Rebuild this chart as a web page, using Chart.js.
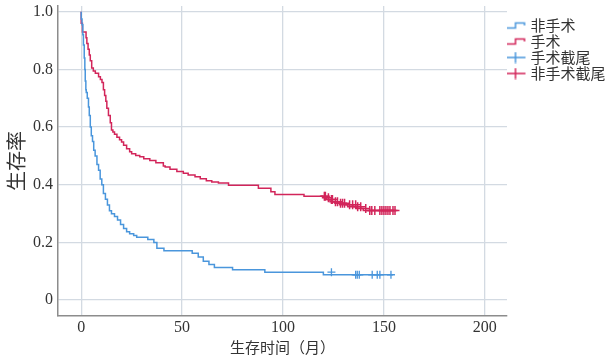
<!DOCTYPE html>
<html>
<head>
<meta charset="utf-8">
<script src="https://cdn.jsdelivr.net/npm/chart.js@4"></script>
<style>
  html, body { margin: 0; padding: 0; background: #fff; }
  #wrap { width: 610px; height: 360px; }
</style>
</head>
<body>
<div id="wrap"><canvas id="km"></canvas></div>
<script>
// legend labels, in the order of the picture
const seriesLabels = ["非手术", "手术", "手术截尾", "非手术截尾"];

// 非手术 (blue) step curve: event times (months) and survival after each event
const blueTimes = [0, 0.4, 0.8, 1.1, 1.5, 1.8, 2.0, 2.3, 2.5, 3.0, 3.6, 4.0, 4.5, 5.0, 5.6, 6.2, 6.9, 7.8, 8.6, 9.4,
  10.2, 11, 12, 13, 14, 15, 16.5, 18, 19.5, 21, 22.5, 24, 26, 27.5, 33, 36, 37.5, 41, 55, 58, 60.5, 63.3, 66, 75, 91, 120, 134.5, 154.5];
const blueSurv = [1.0, 0.975, 0.955, 0.92, 0.885, 0.84, 0.8, 0.76, 0.73, 0.72, 0.70, 0.67, 0.64, 0.60, 0.57, 0.55, 0.52, 0.50, 0.47, 0.45,
  0.42, 0.40, 0.37, 0.35, 0.33, 0.31, 0.30, 0.29, 0.278, 0.262, 0.248, 0.237, 0.23, 0.224, 0.218, 0.21, 0.2, 0.18, 0.171, 0.163, 0.15, 0.135, 0.124, 0.113, 0.105, 0.097, 0.088, 0.088];

// 手术 (red) step curve
const redTimes = [0, 0.6, 2.4, 2.8, 3.4, 4.0, 4.5, 5.2, 6.0, 7.0, 8.6, 9.5, 10.3, 11, 11.6, 12.2, 12.7, 13.5, 14.4, 15.0,
  15.7, 16.5, 17.7, 19, 20, 21, 22.5, 24, 25, 27, 29, 31, 34, 37, 40.7, 41.6, 44, 47.4, 50.6, 53, 56.4, 59, 62, 64.7, 68, 73,
  87.8, 94, 96, 110.4, 119.6, 121.6, 123.3, 125.7, 128, 132, 136.5, 139.8, 142.2, 156];
const redSurv = [1.0, 0.96, 0.93, 0.91, 0.89, 0.87, 0.85, 0.83, 0.805, 0.795, 0.787, 0.775, 0.765, 0.755, 0.73, 0.71, 0.69, 0.665, 0.64, 0.615,
  0.59, 0.583, 0.575, 0.565, 0.556, 0.548, 0.537, 0.525, 0.515, 0.508, 0.502, 0.497, 0.49, 0.484, 0.476, 0.465, 0.462, 0.454, 0.446, 0.44, 0.434, 0.428, 0.421, 0.414, 0.41, 0.406,
  0.398, 0.388, 0.376, 0.366, 0.36, 0.355, 0.349, 0.341, 0.336, 0.331, 0.324, 0.318, 0.311, 0.311];

// censored cases (plus marks)
const blueCensorTimes = [124, 136, 136.8, 137.8, 144.2, 146.7, 148, 153.5];
const blueCensorSurv = [0.097, 0.088, 0.088, 0.088, 0.088, 0.088, 0.088, 0.088];
const redCensorTimes = [120.5, 121, 122.5, 124, 124.5, 126, 127, 128.5, 129.5, 130.5, 133, 134.5, 136, 137, 138.5, 141,
  143, 144, 145.5, 148, 149, 150, 151, 152, 153, 154.5, 155.5];
const redCensorSurv = [0.36, 0.36, 0.355, 0.349, 0.349, 0.341, 0.341, 0.336, 0.336, 0.336, 0.331, 0.331, 0.331, 0.324, 0.324, 0.318,
  0.311, 0.311, 0.311, 0.311, 0.311, 0.311, 0.311, 0.311, 0.311, 0.311, 0.311];

const xTicks = [0, 50, 100, 150, 200];
const yTicks = [0, 0.2, 0.4, 0.6, 0.8, 1.0];

const blue = "#4a96dc";
const red = "#d2255a";
const serif = "'Liberation Serif', 'Times New Roman', serif";
const cjk = "'Noto Sans CJK SC', sans-serif";

const toPoints = (xs, ys) => xs.map((x, i) => ({ x: x, y: ys[i] }));

// small legend icons: step line and plus mark
function stepIcon(color) {
  const c = document.createElement("canvas");
  c.width = 22; c.height = 12;
  const g = c.getContext("2d");
  g.strokeStyle = color; g.lineWidth = 1.5;
  g.beginPath();
  g.moveTo(1, 8.5); g.lineTo(11, 8.5); g.lineTo(11, 3.5); g.lineTo(20, 3.5); g.lineTo(20, 6);
  g.stroke();
  return c;
}
function crossIcon(color) {
  const c = document.createElement("canvas");
  c.width = 22; c.height = 12;
  const g = c.getContext("2d");
  g.strokeStyle = color; g.lineWidth = 1.5;
  g.beginPath();
  g.moveTo(1, 6); g.lineTo(21, 6);
  g.moveTo(11, 0.5); g.lineTo(11, 11.5);
  g.stroke();
  return c;
}
const legendIcons = [stepIcon(blue), stepIcon(red), crossIcon(blue), crossIcon(red)];

function draw() {
  new Chart(document.getElementById("km"), {
    type: "line",
    data: {
      datasets: [
        {
          label: seriesLabels[0],
          data: toPoints(blueTimes, blueSurv),
          borderColor: blue,
          borderWidth: 1.5,
          stepped: "after",
          pointRadius: 0,
          fill: false,
        },
        {
          label: seriesLabels[1],
          data: toPoints(redTimes, redSurv),
          borderColor: red,
          borderWidth: 1.5,
          stepped: "after",
          pointRadius: 0,
          fill: false,
        },
        {
          label: seriesLabels[2],
          data: toPoints(blueCensorTimes, blueCensorSurv),
          showLine: false,
          borderColor: blue,
          backgroundColor: blue,
          pointStyle: "cross",
          pointRadius: 4,
          borderWidth: 1.3,
        },
        {
          label: seriesLabels[3],
          data: toPoints(redCensorTimes, redCensorSurv),
          showLine: false,
          borderColor: red,
          backgroundColor: red,
          pointStyle: "cross",
          pointRadius: 4.5,
          borderWidth: 1.5,
        },
      ],
    },
    options: {
      responsive: true,
      maintainAspectRatio: false,
      animation: false,
      layout: { padding: { top: 6, left: 0, right: 0, bottom: 0 } },
      scales: {
        x: {
          type: "linear",
          min: -11.5,
          max: 211,
          afterBuildTicks: (axis) => { axis.ticks = xTicks.map((v) => ({ value: v })); },
          afterFit: (axis) => { axis.height = 44; },
          grid: { color: "#d3dae2", lineWidth: 1.3, drawTicks: false },
          border: { display: true, color: "#8c8c8c", width: 1.5 },
          ticks: {
            padding: 2,
            color: "#333",
            font: { family: serif, size: 16 },
          },
          title: {
            display: true,
            text: "生存时间（月）",
            color: "#333",
            font: { family: cjk, size: 15 },
            padding: { top: 2, bottom: 4 },
          },
        },
        y: {
          type: "linear",
          min: -0.055,
          max: 1.02,
          afterBuildTicks: (axis) => { axis.ticks = yTicks.map((v) => ({ value: v })); },
          afterFit: (axis) => {
            axis.width = 58;
            axis.paddingTop = 0;
            axis.paddingBottom = 0;
          },
          grid: { color: "#d3dae2", lineWidth: 1.3, drawTicks: false },
          border: { display: true, color: "#8c8c8c", width: 1.5 },
          ticks: {
            padding: 5,
            color: "#333",
            font: { family: serif, size: 16 },
            callback: (v) => (v === 0 ? "0" : v.toFixed(1)),
          },
          title: {
            display: true,
            text: "生存率",
            color: "#333",
            font: { family: cjk, size: 20 },
            padding: { top: 4, bottom: 0 },
          },
        },
      },
      plugins: {
        tooltip: { enabled: false },
        legend: {
          position: "right",
          align: "start",
          maxWidth: 103,
          title: { display: true, text: "", font: { size: 8, lineHeight: 1 }, padding: { top: 3, bottom: 0 } },
          labels: {
            usePointStyle: true,
            boxWidth: 22,
            boxHeight: 12,
            padding: 1,
            color: "#333",
            font: { family: cjk, size: 15, lineHeight: 1 },
            generateLabels: (chart) => {
              const items = Chart.defaults.plugins.legend.labels.generateLabels(chart);
              items.forEach((it, i) => { it.pointStyle = legendIcons[i]; });
              return items;
            },
          },
        },
      },
    },
  });
}

Promise.all([
  document.fonts.load("16px 'Liberation Serif'"),
  document.fonts.load("15px 'Noto Sans CJK SC'", "生存率"),
]).then(draw, draw);
</script>
</body>
</html>
